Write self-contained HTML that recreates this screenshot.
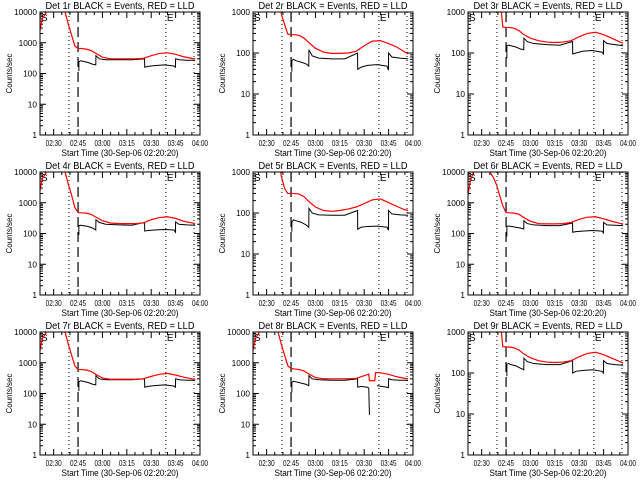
<!DOCTYPE html>
<html><head><meta charset="utf-8"><style>
html,body{margin:0;padding:0;background:#fff;}
svg{display:block;font-family:"Liberation Sans",sans-serif;}
</style></head><body>
<svg id="chart" width="640" height="480" viewBox="0 0 640 480" xmlns="http://www.w3.org/2000/svg">
<rect x="0" y="0" width="640" height="480" fill="#fff"/>
</svg>
<script>
// shared time grids (minutes after 02:20)
const tRed = [1.6,3,5,7,9,11,13,15,17,19,21,23,25,27,30,33,36,40,45,50,55,60,65,70,75,80,85,90,95,97];
const tBlk = [25.5,25.5,26.5,28,31,34,35.9,36,38,42,50,58,65.9,66,68,72,78,84,84.9,85,87,92,97];
const tRed8 = [1.6,3,5,7,9,11,13,15,17,19,21,23,25,27,30,33,36,40,45,50,55,60,65,70,72.8,73.2,76.5,77,80,85,90,95,97];
const tBlk8 = [25.5,25.5,26.5,28,31,34,35.9,36,38,42,50,58,65.9,66,68,72,72.8,73.2,76.5,77.8,84,84.9,85,87,92,97];
const xTickLabels = ["02:30","02:45","03:00","03:15","03:30","03:45","04:00"];
const xTickTimes = [10,25,40,55,70,85,100];
const yTickLabels = ["1","10","100","1000","10000"];
const panelNames = ["1r","2r","3r","4r","5r","6r","7r","8r","9r"];
const panelTops = [10000,1000,1000,10000,1000,10000,10000,10000,1000];
const red1 = [2500,6000,9000,15000,20000,20000,20000,15000,10000,4000,1800,800,650,650,620,560,450,340,300,300,300,300,310,380,450,470,420,350,310,300];
const red2 = [3000,3000,3000,3000,3000,3000,3000,3000,3000,900,500,290,280,280,270,230,180,130,105,98,98,100,110,150,195,200,170,140,105,95];
const red3 = [3000,3000,3000,3000,3000,3000,3000,3000,3000,3000,3000,430,420,420,400,350,280,230,200,185,180,185,200,250,300,320,280,230,185,175];
const red4 = [2500,6000,9000,15000,20000,20000,20000,15000,10000,4000,1800,700,480,470,460,420,340,260,220,210,210,210,220,280,330,350,310,250,220,210];
const red5 = [3000,3000,3000,3000,3000,3000,3000,3000,3000,800,400,300,300,300,290,250,190,140,115,110,115,125,140,170,210,220,180,145,120,115];
const red6 = [1800,5000,10000,15000,20000,20000,15000,10000,7000,4000,1800,800,480,470,460,420,330,250,210,205,205,210,230,290,340,350,300,250,215,205];
const red7 = [2500,6000,9000,15000,20000,20000,20000,15000,10000,4000,1800,800,600,600,580,520,420,320,290,290,290,290,300,360,420,450,400,340,300,290];
const red8 = [2500,6000,9000,15000,20000,20000,20000,15000,10000,4000,1800,800,650,630,600,540,430,330,300,300,300,300,310,380,430,260,260,480,470,420,350,310,300];
const red9 = [3000,3000,3000,3000,3000,3000,3000,3000,3000,3000,3000,440,430,430,410,360,290,235,200,185,180,185,200,250,300,320,280,230,190,175];
const blk1 = [120,240,260,250,230,200,190,380,300,280,280,280,300,160,170,180,190,175,160,300,280,270,270];
const blk2 = [35,65,70,65,60,55,48,120,85,75,72,72,100,40,45,50,52,48,38,100,80,75,72];
const blk3 = [75,150,155,150,140,125,120,230,190,170,160,155,190,95,100,110,115,105,95,200,170,160,150];
const blk4 = [90,180,185,180,170,150,130,280,230,200,190,185,230,120,125,130,135,130,110,240,200,190,185];
const blk5 = [35,60,68,65,60,52,45,130,100,90,88,88,115,40,45,47,48,45,38,115,95,90,88];
const blk6 = [80,170,175,170,160,150,140,260,210,190,180,180,220,110,115,120,125,120,105,230,190,185,180];
const blk7 = [120,240,260,250,230,200,190,380,300,280,280,280,300,160,170,180,190,175,160,300,280,270,270];
const blk8 = [110,230,250,240,220,200,180,380,300,280,270,270,300,160,170,160,150,20,null,180,160,155,300,280,270,270];
const blk9 = [85,165,170,160,150,130,120,230,190,170,160,160,200,100,110,115,120,110,100,200,170,160,155];

const redSeries = [red1,red2,red3,red4,red5,red6,red7,red8,red9];
const blkSeries = [blk1,blk2,blk3,blk4,blk5,blk6,blk7,blk8,blk9];
const NS = "http://www.w3.org/2000/svg";
const svg = document.getElementById('chart');
const colLeft = [40,253,468], rowTop = [12,172,332];
const PW = 160, PH = 123, T0 = 1.6, T1 = 100;

function mk(tag, attrs, parent){
  const e = document.createElementNS(NS, tag);
  for (const k in attrs) e.setAttribute(k, attrs[k]);
  (parent||svg).appendChild(e);
  return e;
}
function pathFrom(ts, vs, xs, ys){
  let d = "", pen = false;
  for (let i=0;i<ts.length;i++){
    if (vs[i]===null){ pen=false; continue; }
    d += (pen?"L":"M") + xs(ts[i]).toFixed(2) + " " + ys(vs[i]).toFixed(2);
    pen = true;
  }
  return d;
}

for (let p=0;p<9;p++){
  const L = colLeft[p%3], T = rowTop[Math.floor(p/3)], top = panelTops[p];
  const dec = Math.round(Math.log10(top));
  const xs = t => L + (t-T0)*PW/(T1-T0);
  const ys = v => T + PH - Math.log10(v)/dec*PH;
  const g = mk('g', {});
  
  
  const clipId = 'clip'+p;
  const cp = mk('clipPath', {id: clipId}, g);
  mk('rect', {x:L, y:T, width:PW, height:PH}, cp);

  const title = mk('text', {x:L+PW/2, y:T-3, 'text-anchor':'middle', 'font-size':'10', textLength:149, lengthAdjust:'spacingAndGlyphs'}, g);
  title.textContent = 'Det ' + panelNames[p] + ' BLACK = Events, RED = LLD';
  
  

  // y ticks
  for (let k=0;k<=dec;k++){
    const y = ys(Math.pow(10,k));
    mk('line',{x1:L,x2:L+6,y1:y,y2:y,stroke:'#000','stroke-width':1},g);
    mk('line',{x1:L+PW-6,x2:L+PW,y1:y,y2:y,stroke:'#000','stroke-width':1},g);
    const tl = mk('text',{x:L-3,y:y+3,'text-anchor':'end','font-size':'8',textLength:4.6*yTickLabels[k].length,lengthAdjust:'spacingAndGlyphs'},g);
    tl.textContent = yTickLabels[k];
    
    
    if (k<dec) for (let m=2;m<10;m++){
      const ym = ys(m*Math.pow(10,k));
      mk('line',{x1:L,x2:L+3,y1:ym,y2:ym,stroke:'#000','stroke-width':1},g);
      mk('line',{x1:L+PW-3,x2:L+PW,y1:ym,y2:ym,stroke:'#000','stroke-width':1},g);
    }
  }
  // x ticks
  for (let k=0;k<xTickTimes.length;k++){
    const x = xs(xTickTimes[k]);
    mk('line',{x1:x,x2:x,y1:T+PH,y2:T+PH-6,stroke:'#000'},g);
    mk('line',{x1:x,x2:x,y1:T,y2:T+6,stroke:'#000'},g);
    const tl = mk('text',{x:x,y:T+PH+11,'text-anchor':'middle','font-size':'8',textLength:16,lengthAdjust:'spacingAndGlyphs'},g);
    tl.textContent = xTickLabels[k];
    
    
  }
  for (let t=5;t<100;t+=5){
    if (t%15===10) continue;
    const x = xs(t);
    mk('line',{x1:x,x2:x,y1:T+PH,y2:T+PH-3,stroke:'#000'},g);
    mk('line',{x1:x,x2:x,y1:T,y2:T+3,stroke:'#000'},g);
  }
  const xt = mk('text',{x:L+PW/2,y:T+PH+21,'text-anchor':'middle','font-size':'9',textLength:117,lengthAdjust:'spacingAndGlyphs'},g);
  xt.textContent = 'Start Time (30-Sep-06 02:20:20)';
  
  
  const yt = mk('text',{x:0,y:0,'text-anchor':'middle','font-size':'8',textLength:40,lengthAdjust:'spacingAndGlyphs',transform:`translate(${L-28},${T+PH/2}) rotate(-90)`},g);
  yt.textContent = 'Counts/sec';
  
  

  // vertical markers
  [19.4,79,96.3].forEach(t=>{
    const l = mk('line',{x1:xs(t),x2:xs(t),y1:T,y2:T+PH,stroke:'#000','stroke-dasharray':'1 3'},g);
    
    
  });
  const dl = mk('line',{x1:xs(25),x2:xs(25),y1:T,y2:T+PH,stroke:'#000','stroke-width':1.2,'stroke-dasharray':'10 5'},g);
  
  

  const sl = mk('text',{x:L+1,y:T+9,'font-size':'10'},g);
  sl.textContent = 'S';
  
  
  const el = mk('text',{x:xs(79)+1,y:T+9,'font-size':'10'},g);
  el.textContent = 'E';
  
  

  // series
  const rT = p===7 ? tRed8 : tRed, bT = p===7 ? tBlk8 : tBlk;
  const bp = mk('path',{d:pathFrom(bT,blkSeries[p],xs,ys),fill:'none',stroke:'#000','stroke-width':1,'clip-path':`url(#${clipId})`},g);
  
  
  const rp = mk('path',{d:pathFrom(rT,redSeries[p],xs,ys),fill:'none',stroke:'#f00','stroke-width':1.2,'clip-path':`url(#${clipId})`},g);
  
  

  const fr = mk('rect',{x:L,y:T,width:PW,height:PH,fill:'none',stroke:'#000','stroke-width':1},g);
  
  
}
</script>
</body></html>
